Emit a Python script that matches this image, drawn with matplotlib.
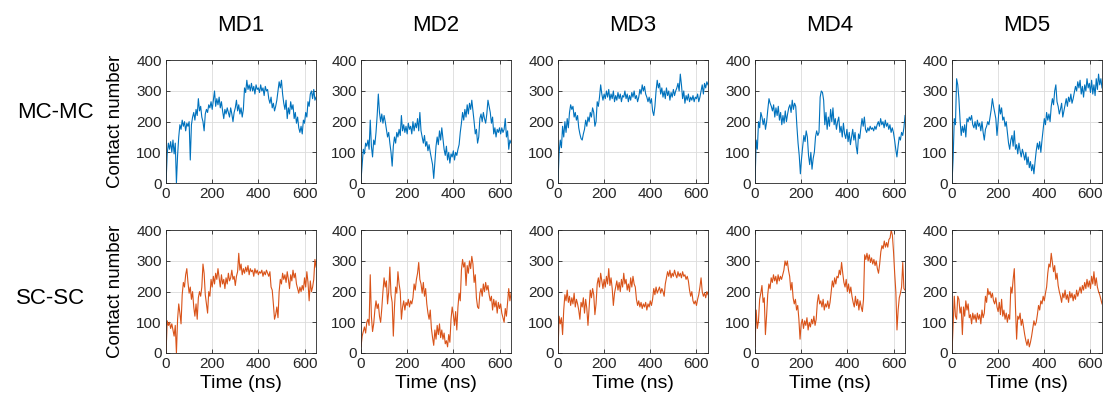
import numpy as np
import matplotlib
matplotlib.use("Agg")
import matplotlib.pyplot as plt

plt.rcParams['font.family'] = ['Liberation Sans', 'DejaVu Sans']

# ---- data: contact numbers sampled every 5 ns, 0..650 ns ----
columns = ["MD1", "MD2", "MD3", "MD4", "MD5"]
rows = ["MC-MC", "SC-SC"]
t_max = 650

mc_md1 = [0, 95, 130, 110, 135, 100, 140, 95, 130, 0, 90, 150, 190, 175, 205, 185, 200, 170, 195, 185,
          200, 75, 190, 215, 230, 205, 240, 220, 275, 235, 250, 215, 200, 170, 225, 240, 230, 255, 245, 265,
          240, 270, 300, 250, 275, 255, 280, 245, 265, 235, 210, 240, 225, 245, 230, 215, 245, 225, 200, 230,
          245, 270, 235, 255, 225, 245, 215, 240, 310, 295, 335, 305, 320, 300, 325, 300, 315, 290, 320, 305,
          310, 295, 320, 300, 310, 285, 315, 300, 305, 275, 260, 280, 245, 260, 235, 250, 270, 300, 330, 310,
          335, 290, 260, 240, 270, 210, 245, 225, 265, 240, 255, 210, 230, 195, 215, 180, 165, 185, 160, 205,
          195, 230, 215, 265, 250, 290, 300, 275, 305, 270, 280]
mc_md2 = [10, 60, 110, 95, 130, 120, 140, 110, 205, 120, 85, 140, 125, 165, 220, 290, 230, 200, 225, 195,
          220, 200, 175, 150, 165, 130, 100, 55, 120, 150, 130, 165, 150, 175, 155, 220, 170, 190, 165, 185,
          160, 195, 175, 185, 160, 200, 170, 195, 180, 210, 170, 230, 170, 150, 130, 155, 120, 135, 105, 125,
          100, 80, 60, 15, 70, 120, 150, 125, 170, 140, 180, 145, 110, 90, 120, 75, 100, 65, 95, 85,
          105, 75, 100, 90, 110, 125, 165, 195, 230, 205, 240, 215, 255, 225, 260, 240, 270, 235, 200, 160,
          175, 130, 150, 210, 225, 200, 230, 210, 195, 225, 270, 250, 230, 195, 215, 160, 180, 150, 175, 165,
          180, 160, 180, 165, 175, 210, 150, 170, 110, 140, 130]
mc_md3 = [0, 100, 140, 115, 185, 150, 200, 165, 210, 180, 230, 255, 240, 250, 215, 230, 205, 220, 180, 160,
          145, 140, 160, 175, 205, 185, 215, 200, 230, 215, 245, 230, 185, 200, 265, 250, 280, 320, 290, 270,
          290, 275, 300, 280, 305, 270, 290, 275, 300, 265, 285, 270, 295, 275, 290, 265, 285, 280, 300, 275,
          290, 265, 285, 270, 295, 280, 300, 275, 285, 265, 280, 305, 290, 320, 300, 315, 290, 280, 265, 280,
          260, 275, 235, 220, 250, 300, 335, 310, 325, 290, 310, 280, 300, 275, 310, 285, 300, 270, 295, 280,
          305, 285, 300, 310, 325, 300, 355, 320, 275, 300, 260, 285, 270, 290, 265, 280, 270, 285, 265, 280,
          275, 290, 265, 280, 300, 320, 290, 325, 310, 330, 320]
mc_md4 = [0, 140, 110, 200, 180, 230, 215, 190, 210, 175, 200, 240, 275, 260, 250, 235, 255, 215, 245, 220,
          250, 205, 230, 190, 220, 195, 235, 200, 225, 245, 255, 230, 270, 240, 260, 250, 185, 130, 90, 30,
          80, 120, 155, 135, 170, 150, 90, 60, 100, 45, 80, 100, 150, 170, 155, 165, 280, 300, 295, 270,
          190, 230, 175, 215, 185, 240, 200, 245, 190, 210, 175, 200, 215, 165, 185, 150, 195, 160, 145, 175,
          135, 165, 125, 150, 175, 140, 165, 120, 95, 160, 145, 180, 210, 185, 215, 175, 165, 180, 170, 185,
          175, 180, 170, 185, 175, 190, 200, 185, 210, 190, 200, 180, 205, 185, 195, 175, 190, 165, 180, 165,
          140, 110, 85, 120, 150, 140, 165, 155, 180, 220]
mc_md5 = [0, 80, 210, 190, 340, 320, 275, 205, 155, 185, 165, 190, 150, 210, 200, 215, 205, 220, 190, 180,
          200, 175, 205, 185, 195, 170, 200, 165, 140, 175, 185, 200, 190, 215, 240, 275, 250, 230, 210, 155,
          200, 255, 225, 245, 205, 215, 185, 200, 165, 130, 110, 140, 155, 120, 170, 110, 125, 95, 130, 105,
          85, 110, 95, 75, 100, 60, 85, 50, 70, 40, 60, 30, 70, 105, 130, 110, 135, 100, 140, 175,
          210, 190, 230, 205, 225, 200, 250, 275, 255, 300, 320, 265, 250, 225, 240, 260, 215, 235, 255, 275,
          250, 280, 265, 290, 260, 275, 295, 315, 300, 330, 310, 335, 290, 315, 280, 320, 300, 340, 310, 325,
          295, 335, 290, 320, 285, 340, 305, 355, 320, 340, 310]

sc_md1 = [0, 105, 90, 100, 80, 95, 75, 55, 90, 0, 110, 160, 130, 95, 190, 230, 215, 255, 275, 230,
          195, 215, 175, 200, 150, 120, 160, 110, 180, 200, 185, 215, 290, 260, 190, 160, 130, 200, 185, 240,
          215, 250, 225, 260, 240, 275, 245, 215, 255, 225, 240, 210, 245, 225, 260, 235, 245, 270, 240, 250,
          220, 250, 265, 325, 270, 290, 255, 275, 260, 280, 265, 285, 255, 275, 265, 270, 250, 275, 260, 270,
          255, 265, 260, 270, 250, 265, 255, 270, 260, 250, 265, 215, 205, 160, 110, 125, 150, 115, 200, 240,
          225, 260, 240, 255, 230, 265, 240, 210, 255, 235, 270, 245, 260, 225, 210, 195, 215, 200, 220, 205,
          245, 215, 265, 230, 170, 235, 200, 215, 240, 305, 280]
sc_md2 = [20, 55, 70, 85, 65, 100, 110, 90, 255, 120, 70, 95, 140, 170, 145, 160, 120, 100, 145, 200,
          245, 215, 235, 160, 200, 280, 190, 165, 55, 150, 215, 195, 265, 225, 200, 110, 150, 170, 140, 165,
          155, 175, 150, 170, 160, 180, 225, 205, 240, 260, 295, 240, 225, 195, 230, 185, 210, 160, 130, 110,
          140, 80, 50, 25, 75, 45, 90, 60, 95, 50, 75, 45, 65, 30, 40, 20, 60, 35, 110, 150,
          125, 90, 135, 75, 150, 195, 170, 270, 305, 280, 295, 220, 285, 260, 300, 275, 315, 290, 230, 255,
          180, 150, 145, 195, 210, 185, 225, 200, 230, 205, 220, 190, 170, 185, 140, 175, 150, 170, 130, 165,
          145, 160, 130, 115, 100, 145, 120, 165, 210, 170, 195]
sc_md3 = [0, 120, 95, 115, 60, 140, 190, 170, 205, 165, 185, 155, 180, 160, 195, 150, 175, 160, 140, 110,
          165, 150, 180, 130, 175, 145, 90, 150, 205, 180, 210, 190, 125, 160, 225, 245, 215, 260, 235, 210,
          240, 215, 250, 225, 275, 220, 245, 210, 155, 195, 215, 235, 205, 230, 200, 240, 215, 260, 225, 240,
          205, 225, 200, 245, 215, 250, 225, 215, 175, 155, 170, 150, 165, 145, 160, 150, 165, 140, 160, 150,
          170, 155, 175, 210, 190, 215, 195, 205, 215, 195, 210, 200, 185, 225, 245, 265, 250, 270, 245, 260,
          250, 270, 255, 245, 265, 250, 260, 245, 265, 250, 255, 240, 250, 235, 205, 185, 200, 170, 160, 170,
          155, 175, 190, 215, 245, 200, 185, 195, 180, 200, 190]
sc_md4 = [20, 140, 80, 105, 175, 195, 220, 165, 180, 60, 120, 190, 225, 210, 245, 230, 255, 235, 250, 225,
          255, 235, 250, 240, 255, 270, 300, 285, 300, 270, 250, 205, 230, 180, 160, 175, 140, 155, 110, 45,
          95, 110, 80, 105, 90, 115, 75, 100, 85, 110, 95, 120, 90, 110, 165, 190, 160, 170, 150, 175,
          140, 160, 150, 170, 145, 165, 200, 235, 215, 245, 225, 250, 245, 270, 255, 295, 260, 230, 215, 240,
          200, 225, 195, 215, 185, 165, 150, 185, 155, 175, 140, 170, 150, 135, 175, 320, 305, 325, 300, 320,
          295, 310, 290, 305, 285, 300, 275, 260, 290, 330, 350, 340, 365, 345, 360, 345, 370, 375, 400, 385,
          330, 260, 200, 75, 140, 180, 195, 215, 295, 210, 205]
sc_md5 = [0, 90, 185, 120, 110, 185, 175, 130, 150, 60, 150, 120, 170, 140, 160, 115, 125, 95, 130, 110,
          125, 100, 130, 110, 125, 95, 140, 115, 130, 185, 165, 210, 190, 200, 180, 195, 170, 160, 180, 150,
          135, 165, 125, 175, 120, 140, 110, 130, 100, 125, 110, 215, 195, 240, 275, 150, 45, 120, 110, 130,
          90, 110, 85, 60, 40, 25, 45, 20, 35, 55, 80, 105, 90, 100, 125, 155, 140, 170, 160, 185,
          170, 195, 215, 260, 290, 280, 325, 295, 265, 285, 240, 260, 220, 200, 185, 165, 195, 180, 205, 175,
          190, 165, 200, 180, 195, 170, 190, 175, 205, 185, 200, 215, 195, 220, 205, 230, 210, 240, 215, 235,
          210, 250, 225, 265, 220, 245, 215, 200, 190, 175, 160]

series = [[mc_md1, mc_md2, mc_md3, mc_md4, mc_md5],
          [sc_md1, sc_md2, sc_md3, sc_md4, sc_md5]]
row_colors = ["#0072BD", "#D95319"]

fig = plt.figure(figsize=(11.04, 4.05), dpi=100)

lefts = [0.1504, 0.3270, 0.5054, 0.6839, 0.8623]
bottoms = [0.5481, 0.1284]
w, h = 0.1359, 0.3030
axc = '#262626'

for r in range(2):
    for c in range(5):
        ax = fig.add_axes([lefts[c], bottoms[r], w, h])
        vals = series[r][c]
        t = np.linspace(0, t_max, len(vals))
        ax.plot(t, vals, color=row_colors[r], lw=0.8)
        ax.set_xlim(0, t_max)
        ax.set_ylim(0, 400)
        ax.set_xticks([0, 200, 400, 600])
        ax.set_yticks([0, 100, 200, 300, 400])
        ax.grid(True, color='#dcdcdc', lw=0.6)
        ax.set_axisbelow(True)
        ax.tick_params(direction='in', length=3, width=0.6, colors=axc,
                       labelsize=11, top=True, right=True, pad=3)
        for s in ax.spines.values():
            s.set_color(axc)
            s.set_linewidth(0.6)
        if c == 0:
            ax.set_ylabel("Contact number", fontsize=13.5, color='black', labelpad=9)
        if r == 1:
            ax.set_xlabel("Time (ns)", fontsize=14, color='black', labelpad=3)
        if r == 0:
            ax.set_title(columns[c], fontsize=16, pad=21)

fig.text(0.050, 1 - 113 / 405, rows[0], fontsize=16, ha='center', va='center')
fig.text(0.046, 1 - 298 / 405, rows[1], fontsize=16, ha='center', va='center')

fig.savefig("out.png", dpi=100)
